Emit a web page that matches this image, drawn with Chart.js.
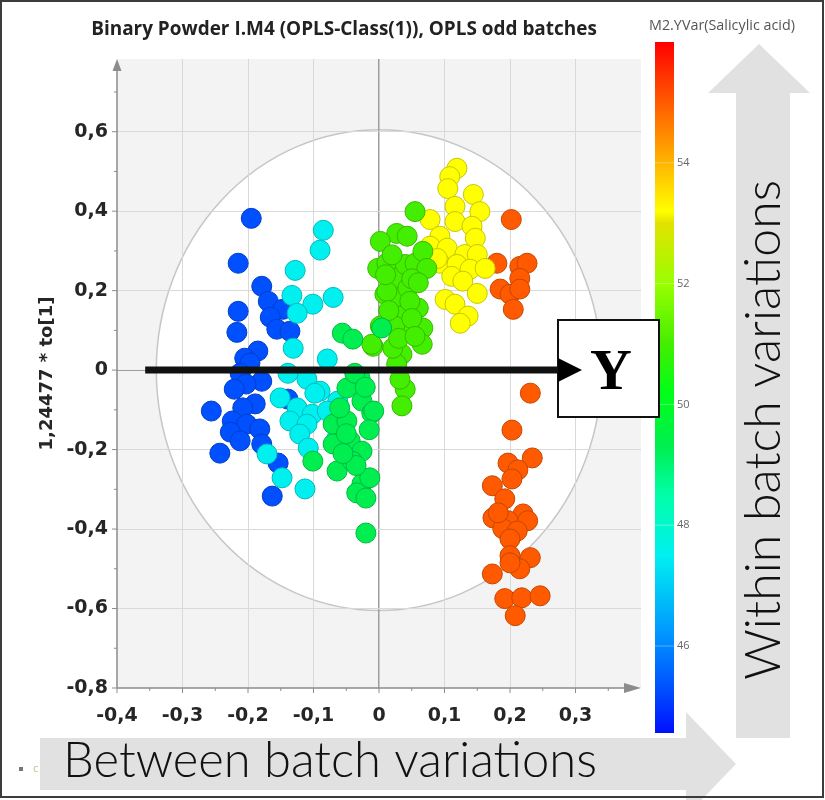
<!DOCTYPE html>
<html>
<head>
<meta charset="utf-8">
<title>Binary Powder I.M4 - OPLS score plot</title>
<script src="https://cdn.jsdelivr.net/npm/chart.js@4.4.1/dist/chart.umd.min.js"></script>
<style>
    html, body { margin: 0; padding: 0; background: #fff; }
    canvas { display: block; }
</style>
</head>
<body>
<canvas id="scoreChart" width="825" height="800"></canvas>
<script>
// ============================================================================
// Data
// ============================================================================

const xTicks = [-0.4, -0.3, -0.2, -0.1, 0, 0.1, 0.2, 0.3];
const yTicks = [-0.8, -0.6, -0.4, -0.2, 0, 0.2, 0.4, 0.6];
const colorTicks = [46, 48, 50, 52, 54];

// colour bar (M2.YVar Salicylic acid) stops
const colorStopValues = [44.56, 45.3, 46.2, 47.5, 48.5, 49.3, 50.2, 51.0, 52.0, 53.0, 53.2, 54.0, 55.0, 56.0];
const colorStopHex = ['#0010ff', '#0050ff', '#0096ff', '#00f0f0', '#00ffa8', '#00ee50', '#00ff18',
                      '#44ee00', '#99ff00', '#e2e200', '#ffff00', '#ffb400', '#ff5a00', '#ff0000'];

// salicylic acid level of each batch group, in drawing order
const groupValues = [49.3, 47.5, 45.3, 51.0, 53.2, 55.0];

// score points [t[1], 1,24477 * to[1]] per group
const springPts = [
    [-0.056, 0.093], [-0.040, 0.078], [-0.029, -0.020], [-0.049, -0.045], [-0.026, -0.078],
    [-0.011, -0.108], [-0.070, -0.136], [-0.049, -0.128], [-0.044, -0.178], [-0.026, -0.204],
    [-0.070, -0.186], [-0.101, -0.229], [-0.064, -0.254], [-0.026, -0.286], [-0.034, -0.309],
    [-0.014, -0.271], [-0.020, -0.410], [-0.020, -0.322], [-0.008, -0.103], [-0.041, -0.229],
    [-0.060, -0.095], [-0.037, -0.008], [-0.021, -0.043], [0.004, 0.106], [-0.050, -0.160],
    [-0.035, -0.240], [-0.015, -0.150], [-0.055, -0.210]
];
const cyanPts = [
    [-0.085, 0.352], [-0.090, 0.302], [-0.128, 0.251], [-0.070, 0.183], [-0.101, 0.166],
    [-0.133, 0.188], [-0.125, 0.143], [-0.131, 0.055], [-0.079, 0.028], [-0.139, -0.008],
    [-0.110, -0.023], [-0.090, -0.053], [-0.151, -0.070], [-0.125, -0.095], [-0.102, -0.111],
    [-0.063, -0.078], [-0.136, -0.128], [-0.110, -0.136], [-0.121, -0.161], [-0.064, -0.171],
    [-0.108, -0.196], [-0.171, -0.211], [-0.148, -0.271], [-0.113, -0.299], [-0.079, -0.103],
    [-0.098, -0.058]
];
const bluePts = [
    [-0.195, 0.382], [-0.215, 0.269], [-0.215, 0.148], [-0.217, 0.095], [-0.179, 0.211],
    [-0.169, 0.173], [-0.147, 0.153], [-0.166, 0.133], [-0.156, 0.103], [-0.136, 0.098],
    [-0.185, 0.048], [-0.205, 0.030], [-0.197, 0.018], [-0.212, -0.008], [-0.179, -0.028],
    [-0.203, -0.035], [-0.221, -0.048], [-0.189, -0.085], [-0.208, -0.095], [-0.139, -0.073],
    [-0.256, -0.103], [-0.224, -0.128], [-0.202, -0.136], [-0.182, -0.148], [-0.227, -0.156],
    [-0.212, -0.178], [-0.179, -0.186], [-0.243, -0.209], [-0.154, -0.234], [-0.163, -0.317]
];
const limePts = [
    [0.055, 0.399], [0.027, 0.344], [0.043, 0.337], [0.002, 0.324], [-0.002, 0.256],
    [0.012, 0.269], [0.024, 0.231], [0.040, 0.266], [0.055, 0.269], [0.067, 0.299],
    [0.073, 0.256], [0.009, 0.191], [0.027, 0.181], [0.044, 0.206], [0.060, 0.156],
    [0.032, 0.136], [0.067, 0.106], [0.044, 0.106], [0.024, 0.111], [0.066, 0.065],
    [0.035, 0.040], [-0.009, 0.060], [0.002, 0.111], [-0.011, 0.065], [0.027, 0.015],
    [0.040, -0.048], [0.035, -0.090], [0.021, 0.055], [0.012, 0.198], [0.047, 0.173],
    [0.032, -0.023], [0.050, 0.230], [0.020, 0.290], [0.060, 0.220], [0.015, 0.150],
    [0.050, 0.130], [0.030, 0.080], [0.055, 0.085], [0.010, 0.240]
];
const yellowPts = [
    [0.119, 0.508], [0.108, 0.487], [0.105, 0.457], [0.144, 0.442], [0.116, 0.412],
    [0.154, 0.399], [0.078, 0.379], [0.116, 0.374], [0.142, 0.362], [0.093, 0.337],
    [0.147, 0.332], [0.078, 0.312], [0.104, 0.307], [0.131, 0.291], [0.150, 0.291],
    [0.093, 0.269], [0.119, 0.266], [0.139, 0.254], [0.162, 0.256], [0.111, 0.236],
    [0.128, 0.224], [0.150, 0.193], [0.101, 0.178], [0.116, 0.166], [0.136, 0.136],
    [0.124, 0.118], [0.089, 0.281]
];
const orangePts = [
    [0.202, 0.379], [0.180, 0.269], [0.215, 0.261], [0.226, 0.269], [0.215, 0.231],
    [0.185, 0.204], [0.200, 0.191], [0.215, 0.204], [0.205, 0.153], [0.231, -0.058],
    [0.203, -0.151], [0.234, -0.221], [0.197, -0.234], [0.212, -0.251], [0.173, -0.291],
    [0.192, -0.324], [0.220, -0.362], [0.174, -0.372], [0.197, -0.379], [0.227, -0.379],
    [0.189, -0.399], [0.211, -0.405], [0.200, -0.425], [0.200, -0.467], [0.231, -0.472],
    [0.215, -0.500], [0.173, -0.513], [0.200, -0.485], [0.192, -0.575], [0.218, -0.573],
    [0.246, -0.568], [0.208, -0.618], [0.203, -0.274], [0.182, -0.359]
];
const groupPoints = [springPts, cyanPts, bluePts, limePts, yellowPts, orangePts];

// Hotelling T2 ellipse semi-axes (data units)
const ellipseRx = 0.34;
const ellipseRy = 0.605;

// ============================================================================
// Helpers
// ============================================================================

const hexToRgb = (h) => [1, 3, 5].map(i => parseInt(h.slice(i, i + 2), 16));

// linear colour map lookup along the colour bar
function colorFor(v, shade = 1) {
    let i = 0;
    while (i < colorStopValues.length - 2 && v > colorStopValues[i + 1]) i++;
    const t = Math.min(1, Math.max(0, (v - colorStopValues[i]) / (colorStopValues[i + 1] - colorStopValues[i])));
    const a = hexToRgb(colorStopHex[i]), b = hexToRgb(colorStopHex[i + 1]);
    const c = a.map((ch, k) => Math.round((ch + (b[k] - ch) * t) * shade));
    return `rgb(${c[0]},${c[1]},${c[2]})`;
}

const fmtTick = (v) => (Math.abs(v) < 1e-9 ? '0' : v.toFixed(1).replace('.', ','));

function fitFont(ctx, text, weight, family, width) {
    ctx.font = `${weight} 100px ${family}`;
    const w = ctx.measureText(text).width;
    return `${weight} ${(100 * width / w).toFixed(2)}px ${family}`;
}

// ============================================================================
// Plugins
// ============================================================================

// plot background + T2 ellipse
const backdropPlugin = {
    id: 'backdrop',
    beforeDraw(chart) {
        const { ctx, chartArea: a, scales: { x, y } } = chart;
        ctx.save();
        ctx.fillStyle = '#f3f3f3';
        ctx.fillRect(a.left, a.top, a.right - a.left, a.bottom - a.top);
        const cx = x.getPixelForValue(0), cy = y.getPixelForValue(0);
        const rx = x.getPixelForValue(ellipseRx) - cx;
        const ry = cy - y.getPixelForValue(ellipseRy);
        ctx.beginPath();
        ctx.ellipse(cx, cy, rx, ry, 0, 0, Math.PI * 2);
        ctx.fillStyle = '#ffffff';
        ctx.fill();
        ctx.strokeStyle = '#c6c6c6';
        ctx.lineWidth = 1.5;
        ctx.stroke();
        ctx.restore();
    }
};

// axis lines with arrow heads and minor ticks
const axesPlugin = {
    id: 'axesArrows',
    beforeDatasetsDraw(chart) {
        const { ctx, chartArea: a, scales: { x, y } } = chart;
        ctx.save();
        ctx.strokeStyle = '#8c8c8c';
        ctx.fillStyle = '#8c8c8c';
        ctx.lineWidth = 1.5;
        ctx.beginPath();
        ctx.moveTo(a.left, a.bottom); ctx.lineTo(a.right - 10, a.bottom);
        ctx.moveTo(a.left, a.bottom); ctx.lineTo(a.left, a.top + 8);
        ctx.stroke();
        // arrow heads
        ctx.beginPath();
        ctx.moveTo(a.right, a.bottom); ctx.lineTo(a.right - 17, a.bottom - 5); ctx.lineTo(a.right - 17, a.bottom + 5);
        ctx.closePath(); ctx.fill();
        ctx.beginPath();
        ctx.moveTo(a.left, a.top); ctx.lineTo(a.left - 4.5, a.top + 12); ctx.lineTo(a.left + 4.5, a.top + 12);
        ctx.closePath(); ctx.fill();
        // ticks
        ctx.lineWidth = 1;
        ctx.beginPath();
        xTicks.forEach((v, i) => {
            const p = x.getPixelForValue(v);
            ctx.moveTo(p, a.bottom); ctx.lineTo(p, a.bottom + 5);
            const next = i < xTicks.length - 1 ? xTicks[i + 1] : v + 0.1;
            const m = x.getPixelForValue((v + next) / 2);
            ctx.moveTo(m, a.bottom); ctx.lineTo(m, a.bottom + 3);
        });
        yTicks.forEach((v, i) => {
            const p = y.getPixelForValue(v);
            ctx.moveTo(a.left, p); ctx.lineTo(a.left - 5, p);
            const next = i < yTicks.length - 1 ? yTicks[i + 1] : v + 0.2;
            const m = y.getPixelForValue((v + next) / 2);
            ctx.moveTo(a.left, m); ctx.lineTo(a.left - 3, m);
        });
        ctx.stroke();
        ctx.restore();
    }
};

// annotations: Y arrow/box, colour bar, titles, grey arrows, frame
const overlayPlugin = {
    id: 'overlay',
    afterDraw(chart) {
        const { ctx, scales: { x, y } } = chart;
        ctx.save();

        // --- colour bar ---
        const bar = { left: 655, right: 674, top: 42, bottom: 733 };
        const vMin = colorStopValues[0], vMax = colorStopValues[colorStopValues.length - 1];
        const grad = ctx.createLinearGradient(0, bar.bottom, 0, bar.top);
        colorStopValues.forEach((v, i) => grad.addColorStop((v - vMin) / (vMax - vMin), colorStopHex[i]));
        ctx.fillStyle = grad;
        ctx.fillRect(bar.left, bar.top, bar.right - bar.left, bar.bottom - bar.top);
        ctx.font = '11px "Open Sans"';
        ctx.fillStyle = '#666';
        ctx.textAlign = 'left';
        ctx.textBaseline = 'middle';
        colorTicks.forEach(v => {
            const py = bar.bottom - (v - vMin) / (vMax - vMin) * (bar.bottom - bar.top);
            ctx.strokeStyle = 'rgba(255,255,255,0.35)';
            ctx.lineWidth = 1;
            ctx.beginPath(); ctx.moveTo(bar.left, py); ctx.lineTo(bar.right, py); ctx.stroke();
            ctx.fillText(String(v), bar.right + 3, py);
        });
        ctx.font = fitFont(ctx, 'M2.YVar(Salicylic acid)', 'normal', '"Open Sans"', 146);
        ctx.fillStyle = '#555';
        ctx.fillText('M2.YVar(Salicylic acid)', 649, 26);

        // --- main title ---
        const title = 'Binary Powder I.M4 (OPLS-Class(1)), OPLS odd batches';
        ctx.font = fitFont(ctx, title, 'bold', '"Open Sans"', 506);
        ctx.fillStyle = '#222';
        ctx.textAlign = 'center';
        ctx.fillText(title, 344, 30);

        // --- Y box and black arrow along t[1] ---
        const y0 = y.getPixelForValue(0);
        const box = { left: 558, top: 320, right: 659, bottom: 417 };
        ctx.fillStyle = '#fff';
        ctx.fillRect(box.left, box.top, box.right - box.left, box.bottom - box.top);
        ctx.strokeStyle = '#111';
        ctx.lineWidth = 2;
        ctx.strokeRect(box.left, box.top, box.right - box.left, box.bottom - box.top);
        ctx.lineWidth = 7;
        ctx.beginPath();
        ctx.moveTo(x.getPixelForValue(-0.357), y0);
        ctx.lineTo(box.left + 4, y0);
        ctx.stroke();
        ctx.fillStyle = '#000';
        ctx.beginPath();
        ctx.moveTo(box.left + 24, y0); ctx.lineTo(box.left, y0 - 12); ctx.lineTo(box.left, y0 + 12);
        ctx.closePath(); ctx.fill();
        ctx.font = 'bold 58px "Liberation Serif"';
        ctx.textAlign = 'center';
        ctx.textBaseline = 'alphabetic';
        ctx.fillText('Y', 611, 389);

        // --- legend remnant bottom-left ---
        ctx.fillStyle = '#777';
        ctx.fillRect(19, 767, 4, 4);
        ctx.fillStyle = '#c9b98a';
        ctx.font = '11px "Open Sans"';
        ctx.textAlign = 'left';
        ctx.textBaseline = 'middle';
        ctx.fillText('c', 33, 769);

        // --- grey arrows ---
        ctx.fillStyle = '#e1e1e1';
        // vertical: within batch
        ctx.beginPath();
        ctx.moveTo(759, 44); ctx.lineTo(810, 93); ctx.lineTo(790, 93); ctx.lineTo(790, 738);
        ctx.lineTo(736, 738); ctx.lineTo(736, 93); ctx.lineTo(708, 93);
        ctx.closePath(); ctx.fill();
        // horizontal: between batch
        ctx.beginPath();
        ctx.moveTo(40, 738); ctx.lineTo(686, 738); ctx.lineTo(686, 712); ctx.lineTo(736, 764);
        ctx.lineTo(686, 816); ctx.lineTo(686, 790); ctx.lineTo(40, 790);
        ctx.closePath(); ctx.fill();

        ctx.fillStyle = '#111';
        ctx.textAlign = 'left';
        ctx.textBaseline = 'alphabetic';
        ctx.font = fitFont(ctx, 'Between batch variations', '300', 'Lato', 534);
        ctx.fillText('Between batch variations', 63, 777);
        ctx.save();
        ctx.translate(780, 680);
        ctx.rotate(-Math.PI / 2);
        ctx.font = fitFont(ctx, 'Within batch variations', '300', 'Lato', 500);
        ctx.fillText('Within batch variations', 0, 0);
        ctx.restore();

        // --- frame ---
        ctx.strokeStyle = '#3c3c3c';
        ctx.lineWidth = 2;
        ctx.strokeRect(1, 1, 822, 796);
        ctx.restore();
    }
};

// ============================================================================
// Chart
// ============================================================================

const tickFont = { family: '"DejaVu Sans"', weight: 'bold', size: 19 };

const datasets = groupPoints.map((pts, i) => ({
    label: `Salicylic acid ${groupValues[i]}`,
    data: pts.map(([px, py]) => ({ x: px, y: py })),
    backgroundColor: colorFor(groupValues[i]),
    borderColor: colorFor(groupValues[i], 0.78),
    borderWidth: 1,
    pointRadius: 10,
    pointHoverRadius: 10
}));

const gridColor = (zeroColor, edgeValue) => (c) => {
    const v = c.tick ? c.tick.value : null;
    if (v === edgeValue) return 'rgba(0,0,0,0)';
    return v === 0 ? zeroColor : '#d9d9d9';
};

new Chart(document.getElementById('scoreChart'), {
    type: 'scatter',
    data: { datasets },
    options: {
        responsive: false,
        animation: false,
        layout: { padding: { left: 0, top: 59, right: 184, bottom: 0 } },
        plugins: {
            legend: { display: false },
            tooltip: { enabled: false }
        },
        scales: {
            x: {
                type: 'linear',
                min: -0.4,
                max: 0.4,
                afterBuildTicks: (s) => { s.ticks = xTicks.map(v => ({ value: v })); },
                afterFit: (s) => { s.height = 112; },
                ticks: { callback: fmtTick, font: tickFont, color: '#262626', padding: 17, maxRotation: 0, autoSkip: false },
                grid: { color: gridColor('#9d9d9d', -0.4), lineWidth: (c) => (c.tick && c.tick.value === 0 ? 1.5 : 1), drawTicks: false },
                border: { display: false }
            },
            y: {
                type: 'linear',
                min: -0.8,
                max: 0.783,
                afterBuildTicks: (s) => { s.ticks = yTicks.map(v => ({ value: v })); },
                afterFit: (s) => { s.width = 117; },
                ticks: { callback: fmtTick, font: tickFont, color: '#262626', padding: 9, autoSkip: false },
                grid: { color: gridColor('#9d9d9d', -0.8), drawTicks: false },
                border: { display: false },
                title: {
                    display: true,
                    text: '1,24477 * to[1]',
                    font: { family: '"DejaVu Sans"', weight: 'bold', size: 18 },
                    color: '#262626',
                    padding: { top: 37, bottom: 0 }
                }
            }
        }
    },
    plugins: [backdropPlugin, axesPlugin, overlayPlugin]
});
</script>
</body>
</html>
